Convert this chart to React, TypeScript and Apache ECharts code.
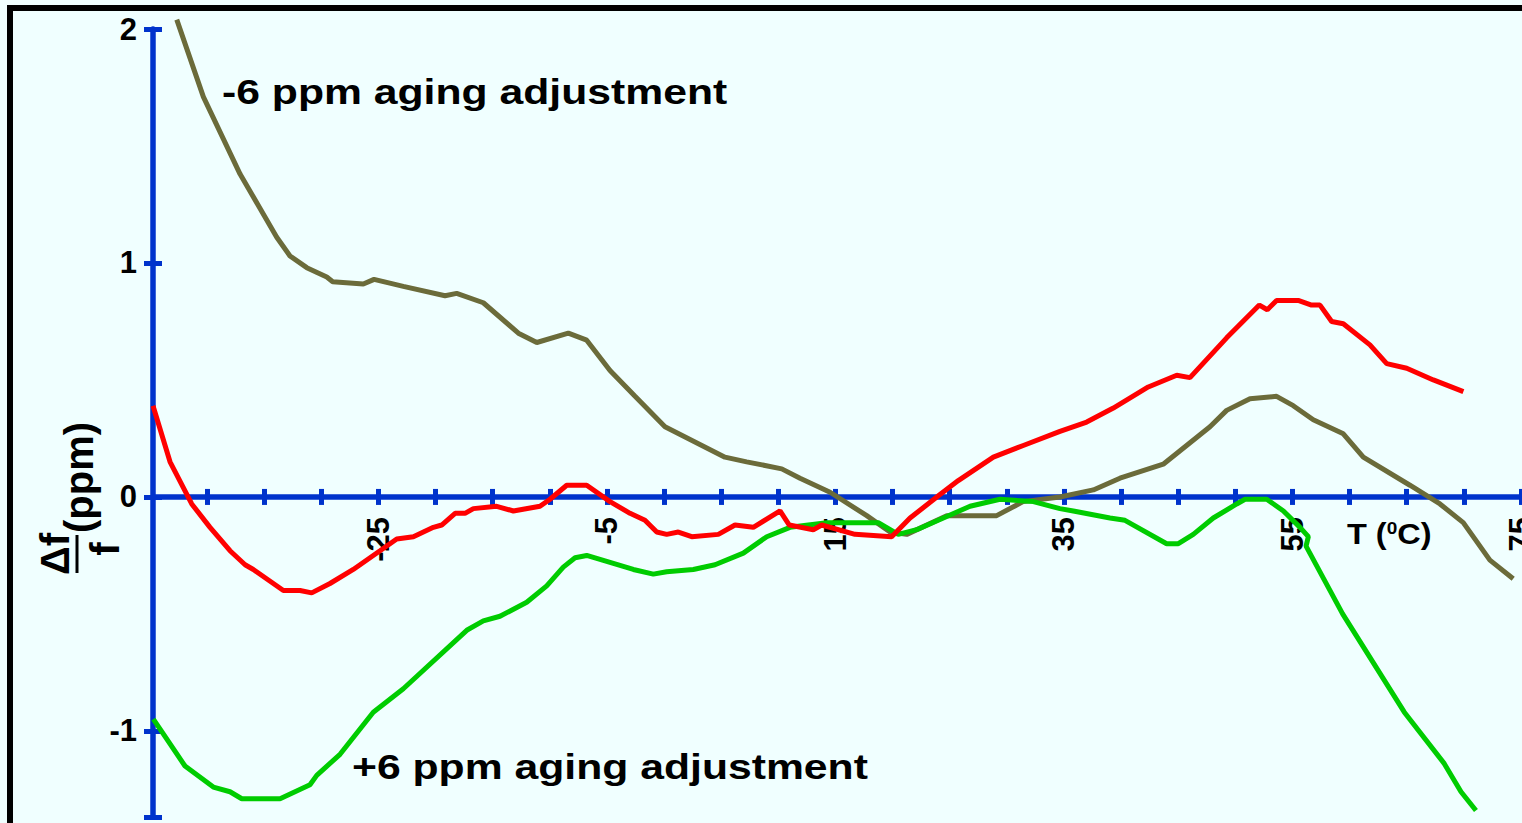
import React, { useEffect, useRef } from "react";
import * as echarts from "echarts";

// ---- axis setup ----
const xTickValues = [-40, -35, -30, -25, -20, -15, -10, -5, 0, 5, 10, 15, 20, 25, 30, 35, 40, 45, 50, 55, 60, 65, 70, 75];
const xLabelValues = [-25, -5, 15, 35, 55, 75];
const yLabelValues = [2, 1, 0, -1];
const X_MIN = -44.73;
const X_MAX = 75.09;
const Y_MIN = -1.368;
const Y_MAX = 2;
const yTickValues = [2, 1, 0, -1, Y_MIN];

// ---- -6 ppm aging adjustment (olive) ----
const oliveT = [-42.65, -40.32, -37.11, -33.9, -32.74, -31.27, -29.52, -29.0, -26.32, -25.38, -22.82, -19.17, -18.15, -15.82, -12.75, -11.14, -8.38, -6.77, -4.73, -2.54, 0.08, 5.33, 7.23, 10.3, 11.9, 14.53, 17.74, 19.78, 21.24, 24.74, 26.49, 29.11, 31.42, 34.65, 37.57, 39.9, 43.69, 47.78, 49.24, 51.28, 53.61, 55.07, 56.82, 59.45, 61.2, 65.28, 67.91, 69.95, 72.28, 74.32];
const oliveV = [2.04, 1.71, 1.38, 1.11, 1.03, 0.98, 0.94, 0.92, 0.91, 0.93, 0.9, 0.86, 0.87, 0.83, 0.7, 0.66, 0.7, 0.67, 0.54, 0.43, 0.3, 0.17, 0.15, 0.12, 0.08, 0.02, -0.08, -0.15, -0.16, -0.08, -0.08, -0.08, -0.02, 0.0, 0.03, 0.08, 0.14, 0.3, 0.37, 0.42, 0.43, 0.39, 0.33, 0.27, 0.17, 0.05, -0.03, -0.11, -0.27, -0.35];

// ---- uncompensated (red) ----
const redT = [-44.73, -43.24, -41.34, -39.74, -37.99, -36.67, -35.95, -33.32, -31.86, -30.84, -29.24, -27.2, -24.86, -23.4, -21.94, -20.19, -19.46, -18.29, -17.42, -16.69, -14.65, -13.19, -10.86, -9.98, -8.52, -6.77, -4.73, -2.98, -1.67, -0.64, 0.23, 1.25, 2.42, 4.75, 6.21, 7.81, 10.15, 10.96, 13.06, 13.8, 16.71, 19.92, 21.53, 24.15, 25.75, 28.82, 31.44, 34.65, 36.99, 39.32, 42.38, 44.87, 46.03, 49.24, 52.1, 52.8, 53.61, 55.5, 56.67, 57.41, 58.43, 59.45, 61.78, 63.25, 65.0, 67.33, 69.96];
const redV = [0.39, 0.15, -0.03, -0.13, -0.23, -0.29, -0.31, -0.4, -0.4, -0.41, -0.37, -0.31, -0.23, -0.18, -0.17, -0.13, -0.12, -0.07, -0.07, -0.05, -0.04, -0.06, -0.04, -0.01, 0.05, 0.05, -0.02, -0.07, -0.1, -0.15, -0.16, -0.15, -0.17, -0.16, -0.12, -0.13, -0.06, -0.12, -0.14, -0.12, -0.16, -0.17, -0.09, 0.01, 0.07, 0.17, 0.22, 0.28, 0.32, 0.38, 0.47, 0.52, 0.51, 0.68, 0.82, 0.8, 0.84, 0.84, 0.82, 0.82, 0.75, 0.74, 0.65, 0.57, 0.55, 0.5, 0.45];

// ---- +6 ppm aging adjustment (green) ----
const greenT = [-44.7, -41.93, -39.45, -37.99, -36.96, -33.61, -30.99, -30.4, -28.36, -25.45, -22.82, -17.27, -15.82, -14.36, -12.02, -10.27, -8.82, -7.79, -6.77, -4.73, -2.69, -0.94, 0.23, 2.56, 4.46, 6.94, 8.99, 11.02, 14.24, 18.75, 20.5, 22.11, 26.78, 29.4, 32.32, 34.65, 35.82, 39.03, 40.34, 43.99, 45.01, 46.32, 48.07, 50.12, 50.85, 52.75, 54.21, 55.66, 56.39, 56.19, 59.39, 64.79, 68.29, 69.75, 71.06];
const greenV = [-0.95, -1.15, -1.24, -1.26, -1.29, -1.29, -1.23, -1.19, -1.1, -0.92, -0.82, -0.57, -0.53, -0.51, -0.45, -0.38, -0.3, -0.26, -0.25, -0.28, -0.31, -0.33, -0.32, -0.31, -0.29, -0.24, -0.17, -0.13, -0.11, -0.11, -0.16, -0.14, -0.04, -0.01, -0.02, -0.05, -0.06, -0.09, -0.1, -0.2, -0.2, -0.16, -0.09, -0.03, -0.01, -0.01, -0.06, -0.13, -0.17, -0.21, -0.5, -0.92, -1.14, -1.26, -1.34];

const BLUE = "#0033CC";
const OLIVE = "#6B6B3A";
const RED = "#FF0000";
const GREEN = "#00CC00";
const BG = "#F0FFFF";
const FONT = "'Liberation Sans', Arial, Helvetica, sans-serif";

const pairs = (t: number[], v: number[]) => t.map((x, i) => [x, v[i]]);

function buildOption() {
  const lineSeries = (name: string, t: number[], v: number[], color: string) => ({
    name,
    type: "line",
    xAxisIndex: 0,
    yAxisIndex: 0,
    data: pairs(t, v),
    showSymbol: false,
    symbol: "none",
    clip: false,
    lineStyle: { color, width: 5 },
    itemStyle: { color },
  });

  const baseX = {
    type: "value",
    min: X_MIN,
    max: X_MAX,
    position: "bottom",
    splitLine: { show: false },
  };
  const baseY = {
    type: "value",
    min: Y_MIN,
    max: Y_MAX,
    position: "left",
    splitLine: { show: false },
  };

  const tickStyle = { color: BLUE, width: 5 };

  return {
    animation: false,
    backgroundColor: BG,
    grid: [
      { left: 153, right: 0, top: 29, bottom: 6, containLabel: false, outerBoundsMode: "none" },
      // label-only grid whose bottom edge sits on the zero line (y = 0)
      { left: 153, right: 0, top: 29, bottom: 326, containLabel: false, outerBoundsMode: "none" },
    ],
    xAxis: [
      {
        ...baseX,
        gridIndex: 0,
        axisLine: { show: true, onZero: true, lineStyle: { color: BLUE, width: 5.5 } },
        axisTick: { show: true, customValues: xTickValues, length: 8, lineStyle: tickStyle },
        axisLabel: { show: false },
      },
      {
        ...baseX,
        gridIndex: 0,
        axisLine: { show: false, onZero: true },
        axisTick: { show: true, inside: true, customValues: xTickValues, length: 8, lineStyle: tickStyle },
        axisLabel: { show: false },
      },
      {
        ...baseX,
        gridIndex: 1,
        axisLine: { show: false, onZero: false },
        axisTick: { show: false },
        axisLabel: {
          show: true,
          customValues: xLabelValues,
          rotate: 90,
          margin: 20,
          color: "#000",
          fontSize: 31,
          fontWeight: "bold",
          fontFamily: FONT,
        },
      },
    ],
    yAxis: [
      {
        ...baseY,
        gridIndex: 0,
        axisLine: { show: true, onZero: false, lineStyle: { color: BLUE, width: 5.5 } },
        axisTick: { show: true, customValues: yTickValues, length: 9, lineStyle: tickStyle },
        axisLabel: {
          show: true,
          customValues: yLabelValues,
          margin: 16,
          color: "#000",
          fontSize: 31,
          fontWeight: "bold",
          fontFamily: FONT,
        },
      },
      {
        ...baseY,
        gridIndex: 0,
        axisLine: { show: false, onZero: false },
        axisTick: { show: true, inside: true, customValues: yTickValues, length: 9, lineStyle: tickStyle },
        axisLabel: { show: false },
      },
      {
        type: "value",
        gridIndex: 1,
        min: 0,
        max: 1,
        show: false,
      },
    ],
    series: [
      lineSeries("-6 ppm aging adjustment", oliveT, oliveV, OLIVE),
      lineSeries("+6 ppm aging adjustment", greenT, greenV, GREEN),
      lineSeries("uncompensated", redT, redV, RED),
    ],
    graphic: [
      { type: "rect", z: 100, shape: { x: 7, y: 5, width: 6, height: 830 }, style: { fill: "#000" } },
      { type: "rect", z: 100, shape: { x: 7, y: 5, width: 1530, height: 6 }, style: { fill: "#000" } },
      {
        type: "text",
        z: 100,
        x: 222,
        y: 92,
        scaleX: 1.22,
        style: {
          text: "-6 ppm aging adjustment",
          fontSize: 35,
          fontWeight: "bold",
          fontFamily: FONT,
          fill: "#000",
          align: "left",
          verticalAlign: "middle",
        },
      },
      {
        type: "text",
        z: 100,
        x: 352,
        y: 767,
        scaleX: 1.22,
        style: {
          text: "+6 ppm aging adjustment",
          fontSize: 35,
          fontWeight: "bold",
          fontFamily: FONT,
          fill: "#000",
          align: "left",
          verticalAlign: "middle",
        },
      },
      {
        type: "text",
        z: 100,
        x: 1347,
        y: 534,
        scaleX: 1.12,
        style: {
          text: "{a|T (}{b|0}{a|C)}",
          align: "left",
          verticalAlign: "middle",
          rich: {
            a: { fontSize: 29, fontWeight: "bold", fontFamily: FONT, fill: "#000" },
            b: { fontSize: 17, fontWeight: "bold", fontFamily: FONT, fill: "#000", verticalAlign: "top" },
          },
        },
      },
      {
        type: "group",
        z: 100,
        x: 0,
        y: 0,
        rotation: Math.PI / 2,
        children: [
          {
            type: "text",
            x: -554,
            y: 55,
            style: { text: "Δf", fontSize: 40, fontWeight: "bold", fontFamily: FONT, fill: "#000", align: "center", verticalAlign: "middle" },
          },
          {
            type: "line",
            shape: { x1: -573, y1: 77, x2: -535, y2: 77 },
            style: { stroke: "#000", lineWidth: 3 },
          },
          {
            type: "text",
            x: -549,
            y: 105,
            style: { text: "f", fontSize: 40, fontWeight: "bold", fontFamily: FONT, fill: "#000", align: "center", verticalAlign: "middle" },
          },
          {
            type: "text",
            x: -533,
            y: 79,
            style: { text: "(ppm)", fontSize: 40, fontWeight: "bold", fontFamily: FONT, fill: "#000", align: "left", verticalAlign: "middle" },
          },
        ],
      },
    ],
  };
}

export default function App() {
  const ref = useRef<HTMLDivElement>(null);
  useEffect(() => {
    if (!ref.current) return;
    const chart = echarts.init(ref.current, null, { renderer: "svg" });
    chart.setOption(buildOption() as any);
    return () => chart.dispose();
  }, []);
  return (
    <div style={{ position: "fixed", left: 0, top: 0, width: 1522, height: 823, background: BG, overflow: "hidden" }}>
      <div ref={ref} style={{ width: 1522, height: 823 }} />
    </div>
  );
}
